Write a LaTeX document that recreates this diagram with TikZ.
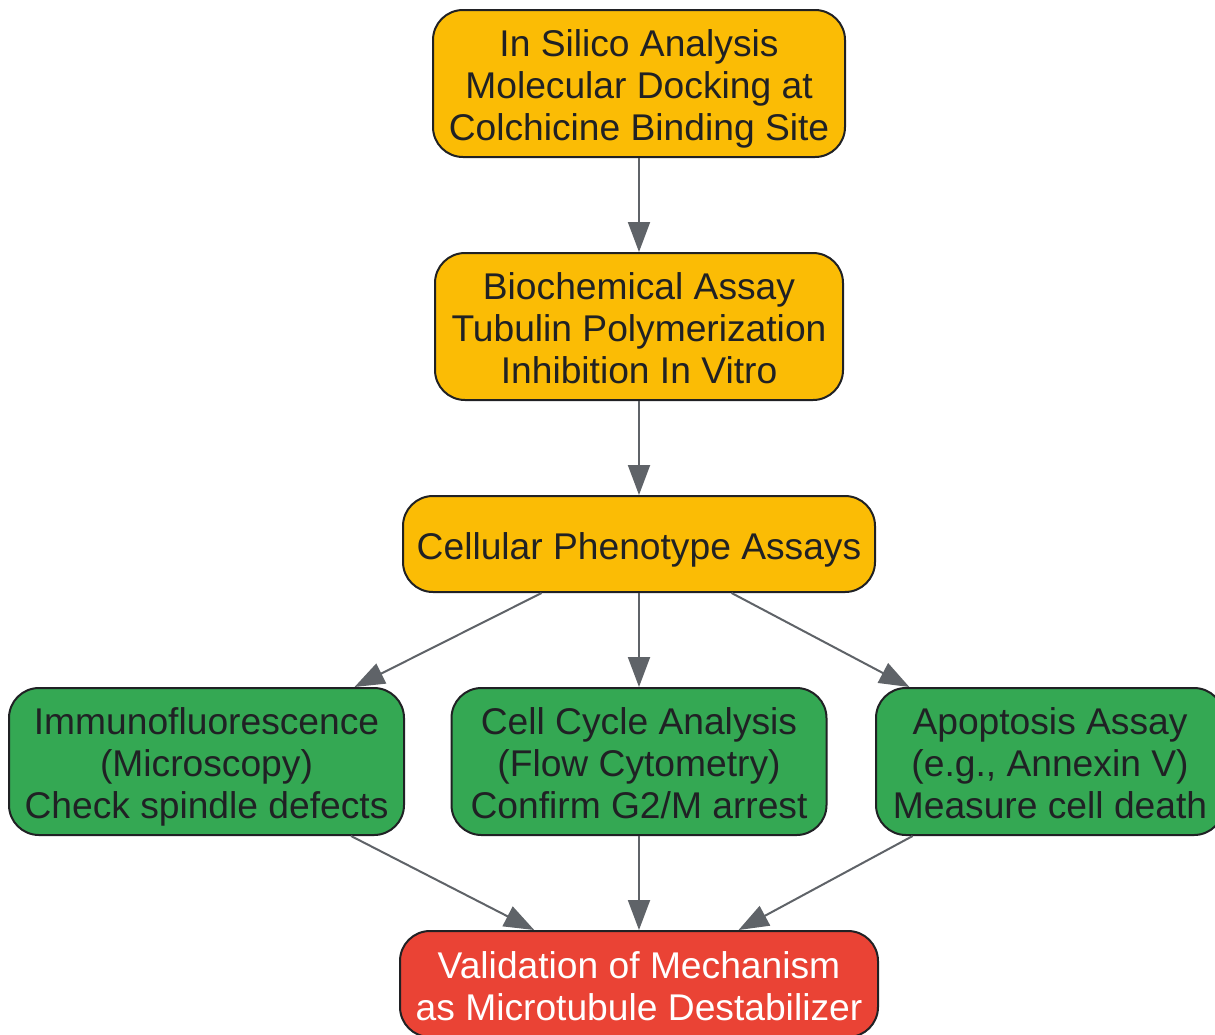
\documentclass[tikz,border=0pt]{standalone}
\usepackage{fontspec}
\setmainfont{Liberation Sans}
\usetikzlibrary{arrows.meta}
\definecolor{gyellow}{HTML}{FBBC05}
\definecolor{ggreen}{HTML}{34A853}
\definecolor{gred}{HTML}{EA4335}
\definecolor{gborder}{HTML}{202124}
\definecolor{gtext}{HTML}{202124}
\definecolor{garrow}{HTML}{5F6368}
\newcommand\boxtext[2][7pt]{\raisebox{-#1}[\height][\depth]{\begin{tabular}{@{}c@{}}#2\end{tabular}}}
\tikzset{
  box/.style={draw=gborder, line width=2pt, rounded corners=30pt,
    inner sep=0pt, font=\fontsize{37.2}{42}\selectfont, text=gtext},
  yellowbox/.style={box, fill=gyellow},
  greenbox/.style={box, fill=ggreen},
  redbox/.style={box, fill=gred, text=white},
  conn/.style={draw=garrow, line width=2pt, -{Triangle[length=30pt,width=22pt]}},
}
\begin{document}
\begin{tikzpicture}[x=1pt,y=-1pt]
\useasboundingbox (0,0) rectangle (1215,1034);
\node[yellowbox, minimum width=412pt, minimum height=147pt] (silico) at (639,83.5)
  {\boxtext{In Silico Analysis\\Molecular Docking at\\Colchicine Binding Site}};
\node[yellowbox, minimum width=408pt, minimum height=147pt] (biochem) at (639,326.5)
  {\boxtext{Biochemical Assay\\Tubulin Polymerization\\Inhibition In Vitro}};
\node[yellowbox, minimum width=472pt, minimum height=96pt] (cell) at (639,544)
  {\boxtext{Cellular Phenotype Assays}};
\node[greenbox, minimum width=395pt, minimum height=147pt] (immuno) at (206.5,761.5)
  {\boxtext{Immunofluorescence\\(Microscopy)\\Check spindle defects}};
\node[greenbox, minimum width=375pt, minimum height=147pt] (cycle) at (639,761.5)
  {\boxtext{Cell Cycle Analysis\\(Flow Cytometry)\\Confirm G2/M arrest}};
\node[greenbox, minimum width=348pt, minimum height=147pt] (apop) at (1050,761.5)
  {\boxtext{Apoptosis Assay\\(e.g., Annexin V)\\Measure cell death}};
\node[redbox, minimum width=478pt, minimum height=106pt] (valid) at (639,984)
  {\boxtext{Validation of Mechanism\\as Microtubule Destabilizer}};
\draw[conn] (silico) -- (biochem);
\draw[conn] (biochem) -- (cell);
\draw[conn] (cell) -- (immuno);
\draw[conn] (cell) -- (cycle);
\draw[conn] (cell) -- (apop);
\draw[conn] (immuno) -- (valid);
\draw[conn] (cycle) -- (valid);
\draw[conn] (apop) -- (valid);
\end{tikzpicture}
\end{document}
